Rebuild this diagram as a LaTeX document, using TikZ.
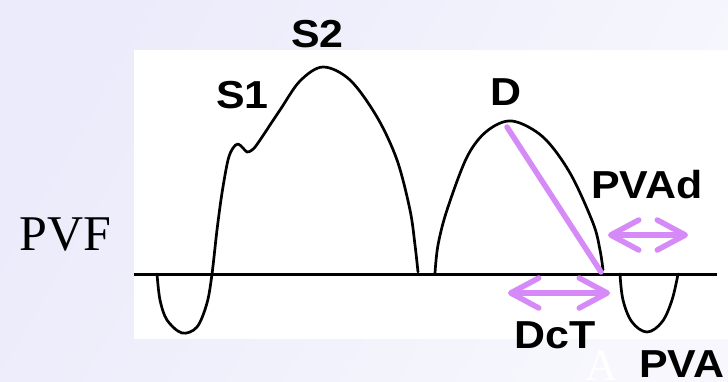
\documentclass[tikz,border=0pt]{standalone}
\usepackage{fontspec}
\setmainfont{Liberation Serif}
\newfontfamily\labfont[FakeStretch=1.1]{Liberation Sans}
\usetikzlibrary{arrows.meta}
\definecolor{bgA}{RGB}{235,235,251}
\definecolor{bgB}{RGB}{247,247,253}
\definecolor{violetline}{RGB}{214,138,247}
\tikzset{
  wave/.style={line width=2.7pt, black, line join=round, line cap=round},
  axisline/.style={line width=3pt, black},
  dcline/.style={line width=5.5pt, violetline, line cap=round},
  dblarrow/.style={line width=5.5pt, violetline,
    {Straight Barb[length=28pt,width=30pt,round]}-{Straight Barb[length=28pt,width=30pt,round]}},
  lab/.style={font=\labfont\bfseries\fontsize{39}{39}\selectfont, inner sep=0pt, anchor=base west},
}
\begin{document}
\begin{tikzpicture}[x={(1pt,0)}, y={(0,-1pt)}]
  \useasboundingbox (0,0) rectangle (728,381);
  \shade[left color=bgA, right color=bgB, shading angle=60] (0,0) rectangle (728,381);
  \fill[white] (134,50) rectangle (728,339);
  % baseline
  \coordinate (b0) at (134,274);
  \coordinate (b1) at (717,274);
  \draw[axisline] (b0) -- (b1);
  % main wave: negative lobe, S1 notch, S2 peak
  \draw[wave] plot[smooth, tension=0.55] coordinates {
    (157,274) (160,300) (167,320) (182,333) (197,327) (207,303) (212,274)
    (217,230) (222,193) (228,160) (233,148) (238,144) (243,148) (247,152)
    (252,150) (258,143) (280,110) (300,81) (323,67) (350,80) (377,117)
    (397,160) (410,210) (415,245) (418,272)};
  % D lobe
  \draw[wave] plot[smooth, tension=0.55] coordinates {
    (435,273) (438,245) (447,210) (467,157) (487,131) (512,121) (543,137)
    (570,173) (593,223) (600,250) (603,270)};
  % PVA lobe
  \draw[wave] plot[smooth, tension=0.6] coordinates {
    (620,274) (623,300) (632,322) (647,332) (662,322) (672,300) (678,274)};
  % deceleration line
  \coordinate (dpk) at (507,127);
  \coordinate (dft) at (601,272);
  \draw[dcline] (dpk) -- (dft);
  % arrows
  \coordinate (dcA) at (508,293);
  \coordinate (dcB) at (610,293);
  \draw[dblarrow] (dcA) -- (dcB);
  \coordinate (pdA) at (608,235);
  \coordinate (pdB) at (688,235);
  \draw[dblarrow] (pdA) -- (pdB);
  % labels
  \node[lab] (s2) at (291,47) {S2};
  \node[lab] (s1) at (216,108) {S1};
  \node[lab] (d) at (490,105) {D};
  \node[lab] (pvad) at (591,198) {PVAd};
  \node[lab] (dct) at (514,348) {DcT};
  \node[lab] (pva) at (639,377) {PVA};
  \node[font=\fontsize{45}{45}\selectfont, text=white, inner sep=0pt, anchor=base west] (a) at (585,380) {A};
  \node[font=\fontsize{50}{50}\selectfont, inner sep=0pt, anchor=base west] (pvf) at (19,250) {PVF};
\end{tikzpicture}
\end{document}
